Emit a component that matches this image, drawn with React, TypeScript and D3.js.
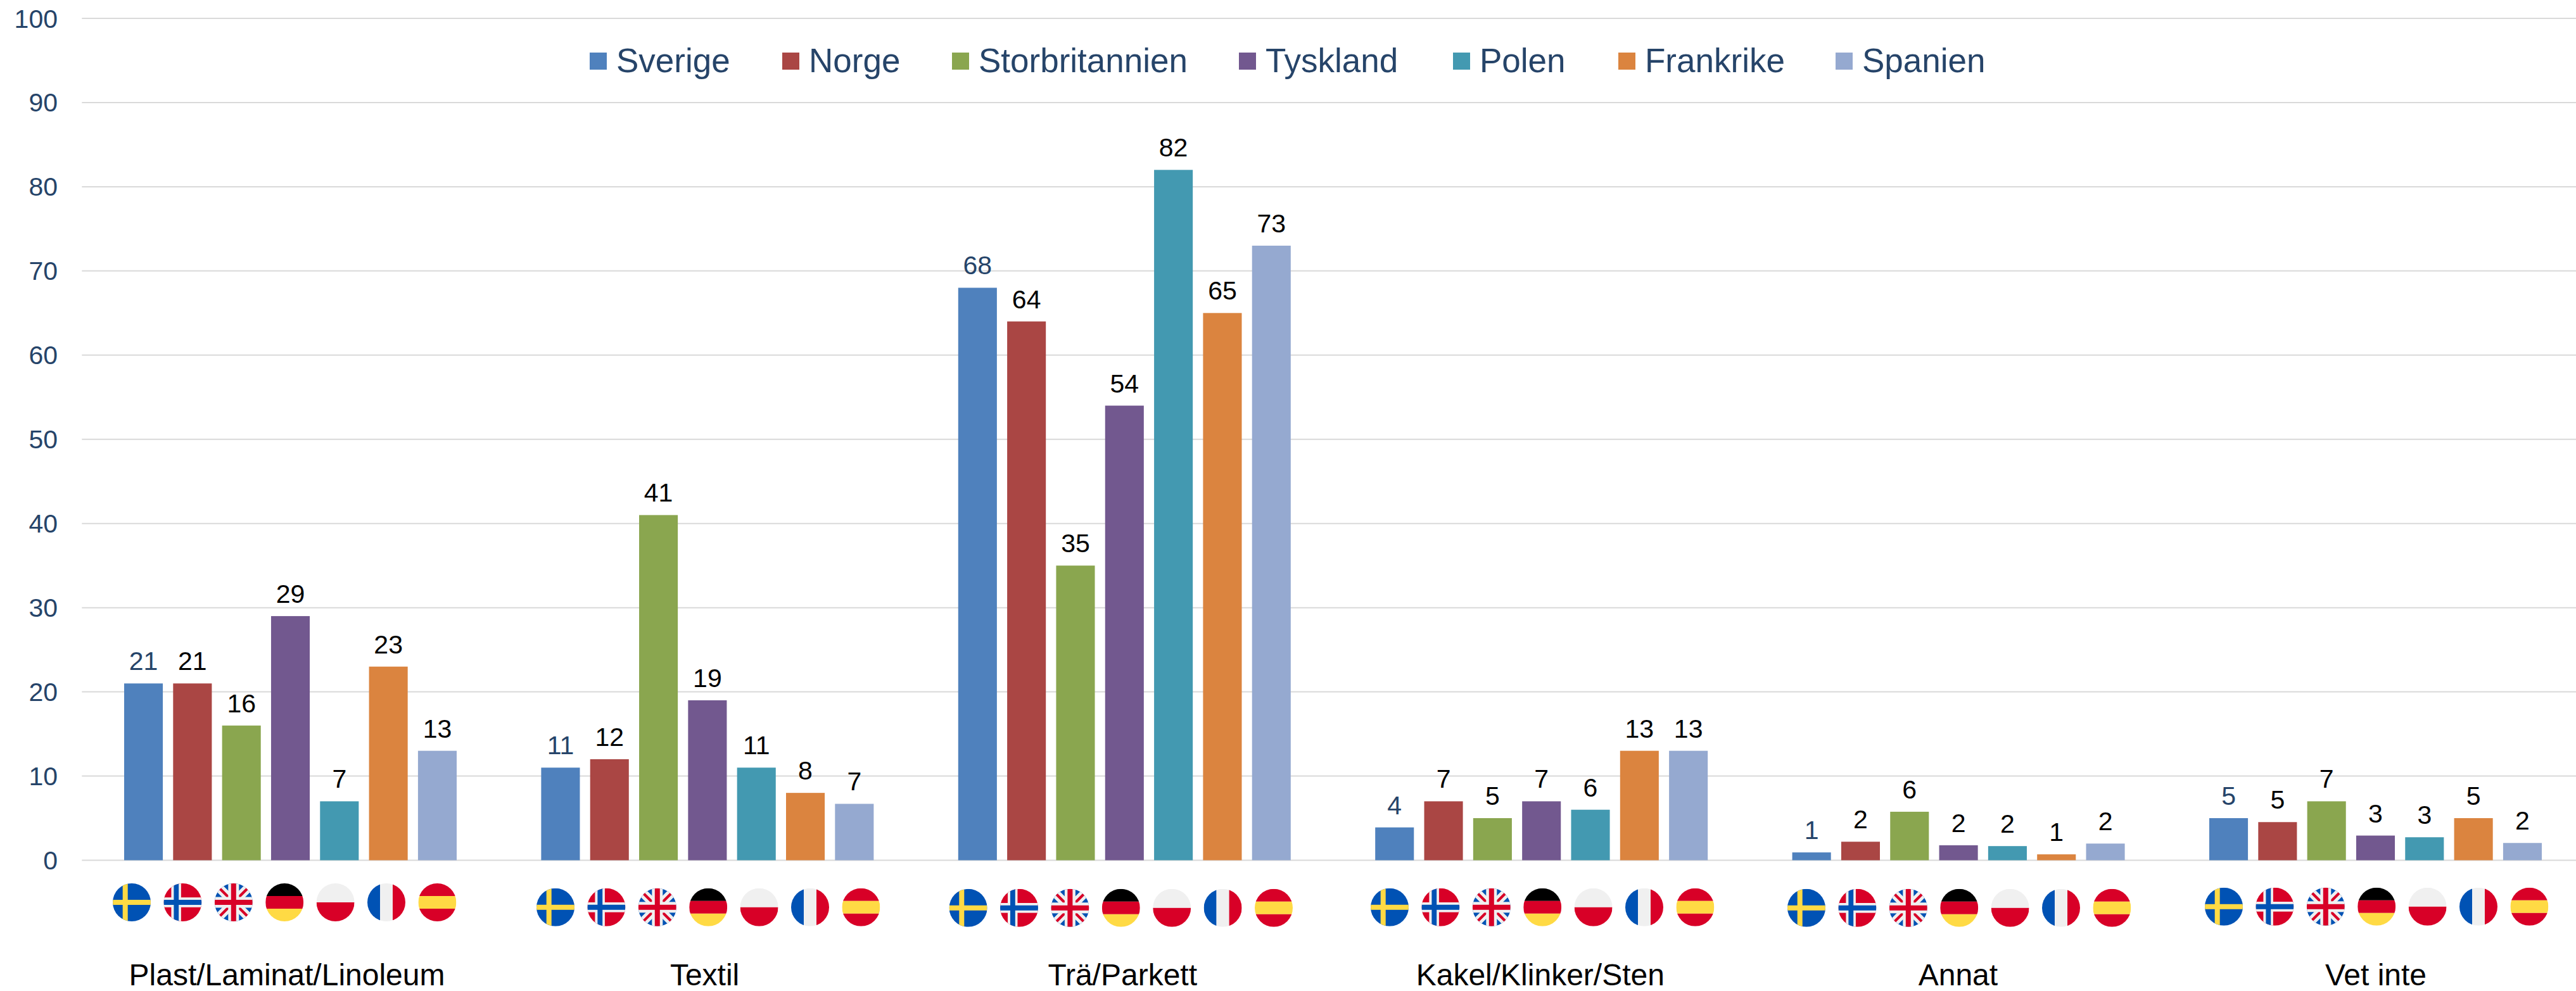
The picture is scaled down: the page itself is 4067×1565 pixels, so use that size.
import React from "react";
import * as d3 from "d3";

const categories = ["Plast/Laminat/Linoleum", "Textil", "Trä/Parkett", "Kakel/Klinker/Sten", "Annat", "Vet inte"];
const countries = ["Sverige", "Norge", "Storbritannien", "Tyskland", "Polen", "Frankrike", "Spanien"];
const sverige = [21, 11, 68, 3.9, 0.93, 5];
const norge = [21, 12, 64, 7, 2.2, 4.53];
const storbritannien = [16, 41, 35, 5, 5.76, 7];
const tyskland = [29, 19, 54, 7, 1.78, 2.93];
const polen = [7, 11, 82, 6, 1.68, 2.73];
const frankrike = [23, 8, 65, 13, 0.7, 5];
const spanien = [13, 6.7, 73, 13, 1.98, 2.05];
const seriesValues = [sverige, norge, storbritannien, tyskland, polen, frankrike, spanien];
const yTicks = [0, 10, 20, 30, 40, 50, 60, 70, 80, 90, 100];
const seriesColors = ["#4f81bd", "#aa4644", "#8aa64f", "#72588f", "#4399b1", "#db843f", "#95a9d0"];

const WIDTH = 4067;
const HEIGHT = 1565;
const FONT = "'Liberation Sans', Arial, sans-serif";
const NAVY = "#264469";
const GRID = "#d9d9d9";
const BLUE = "#0052b4";
const RED = "#d80027";
const YELLOW = "#ffda44";
const WHITE = "#f0f0f0";

const flagRowX = [208, 877, 1528.6, 2194, 2852, 3511];
const flagRowY = [1425, 1432.8, 1433.8, 1432.8, 1433.8, 1431.8];
const legendX = [931, 1235, 1503, 1956, 2294, 2555, 2898];

function FlagArt({ name }: { name: string }) {
  const r = (x: number, y: number, w: number, h: number, fill: string) => (
    <rect x={x} y={y} width={w} height={h} fill={fill} />
  );
  if (name === "Sverige")
    return (
      <>
        {r(0, 0, 60, 60, BLUE)}
        {r(15.7, 0, 8, 60, YELLOW)}
        {r(0, 26, 60, 8, YELLOW)}
      </>
    );
  if (name === "Norge")
    return (
      <>
        {r(0, 0, 60, 60, RED)}
        {r(12, 0, 15.5, 60, WHITE)}
        {r(0, 22.2, 60, 15.6, WHITE)}
        {r(16, 0, 7.8, 60, BLUE)}
        {r(0, 26, 60, 8, BLUE)}
      </>
    );
  if (name === "Storbritannien")
    return (
      <>
        {r(0, 0, 60, 60, BLUE)}
        <path d="M0 0L60 60M60 0L0 60" stroke={WHITE} strokeWidth={14} />
        <path d="M7 7L24 24M36 36L53 53M53 7L36 24M24 36L7 53" stroke={RED} strokeWidth={4.2} />
        {r(21.5, 0, 17, 60, WHITE)}
        {r(0, 21.5, 60, 17, WHITE)}
        {r(26, 0, 8, 60, RED)}
        {r(0, 26, 60, 8, RED)}
      </>
    );
  if (name === "Tyskland")
    return (
      <>
        {r(0, 0, 60, 20, "#000000")}
        {r(0, 20, 60, 20, RED)}
        {r(0, 40, 60, 20, YELLOW)}
      </>
    );
  if (name === "Polen")
    return (
      <>
        {r(0, 0, 60, 30, WHITE)}
        {r(0, 30, 60, 30, RED)}
      </>
    );
  if (name === "Frankrike")
    return (
      <>
        {r(0, 0, 20, 60, BLUE)}
        {r(20, 0, 20, 60, WHITE)}
        {r(40, 0, 20, 60, RED)}
      </>
    );
  return (
    <>
      {r(0, 0, 60, 20, RED)}
      {r(0, 20, 60, 20, YELLOW)}
      {r(0, 40, 60, 20, RED)}
    </>
  );
}

export default function App() {
  const y = d3.scaleLinear().domain([0, 100]).range([1358.5, 29]);
  const x0 = d3.scaleBand<string>().domain(categories).range([129.3, 4079.7]);
  const x1 = d3.scaleBand<string>().domain(countries).range([0, 525]).paddingInner(0.21);
  const groupPad = (x0.bandwidth() - 525) / 2;
  const fmt = d3.format(".0f");

  return (
    <svg
      width={WIDTH}
      height={HEIGHT}
      viewBox={`0 0 ${WIDTH} ${HEIGHT}`}
      style={{ position: "absolute", left: 0, top: 0, display: "block", background: "#ffffff" }}
      fontFamily={FONT}
    >
      <defs>
        <clipPath id="flag-circle">
          <circle cx={30} cy={30} r={30} />
        </clipPath>
      </defs>

      {yTicks.map((t) => (
        <g key={t}>
          <line x1={129.3} x2={WIDTH} y1={y(t)} y2={y(t)} stroke={GRID} strokeWidth={2} />
          <text x={91} y={y(t) + 14.5} textAnchor="end" fontSize={41} fill={NAVY}>
            {t}
          </text>
        </g>
      ))}

      {categories.map((cat, ci) => (
        <g key={cat} transform={`translate(${(x0(cat) as number) + groupPad},0)`}>
          {countries.map((c, si) => {
            const v = seriesValues[si][ci];
            const bx = x1(c) as number;
            return (
              <g key={c}>
                <rect x={bx} y={y(v)} width={x1.bandwidth()} height={y(0) - y(v)} fill={seriesColors[si]} />
                <text
                  x={bx + x1.bandwidth() / 2}
                  y={y(v) - 21}
                  textAnchor="middle"
                  fontSize={41}
                  fill={si === 0 ? NAVY : "#000000"}
                >
                  {fmt(v)}
                </text>
              </g>
            );
          })}
        </g>
      ))}

      {categories.map((cat, ci) => (
        <g key={cat}>
          {countries.map((c, si) => (
            <g key={c} transform={`translate(${flagRowX[ci] + si * 80.4 - 30},${flagRowY[ci] - 30})`}>
              <g clipPath="url(#flag-circle)">
                <FlagArt name={c} />
              </g>
            </g>
          ))}
          <text
            x={(x0(cat) as number) + x0.bandwidth() / 2 - 5.5 + ci * 1.2}
            y={1556}
            textAnchor="middle"
            fontSize={48}
            fill="#000000"
          >
            {cat}
          </text>
        </g>
      ))}

      {countries.map((c, i) => (
        <g key={c}>
          <rect x={legendX[i]} y={83} width={27} height={27} fill={seriesColors[i]} />
          <text x={legendX[i] + 42} y={114} fontSize={53} fill={NAVY}>
            {c}
          </text>
        </g>
      ))}
    </svg>
  );
}
